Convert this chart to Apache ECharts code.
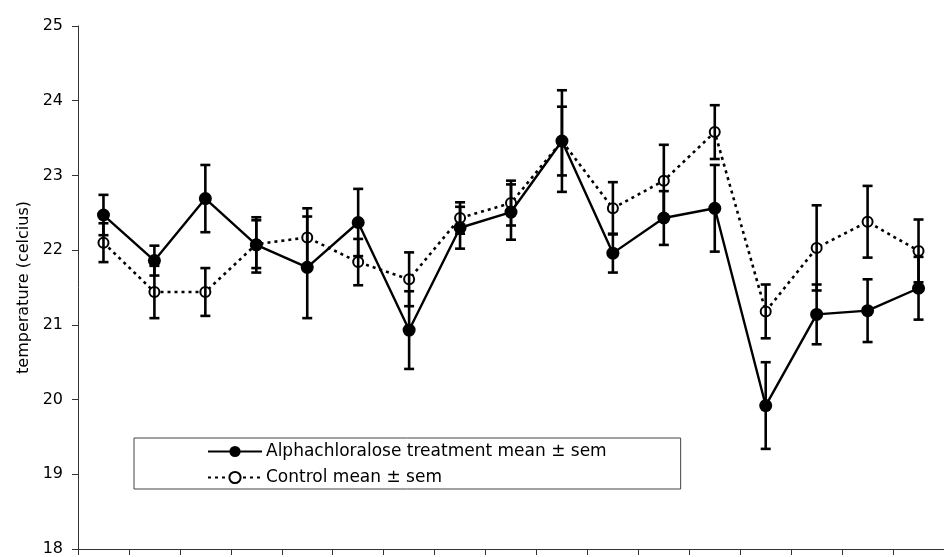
<!DOCTYPE html>
<html>
<head>
<meta charset="utf-8">
<script src="https://cdn.jsdelivr.net/npm/echarts@6/dist/echarts.min.js"></script>
<style>
  html, body { margin: 0; padding: 0; background: #fff; }
  #chart { width: 944px; height: 557px; }
</style>
</head>
<body>
<div id="chart"></div>
<script>
// 17 time points, no labels visible on the x axis
var categories = ['1', '2', '3', '4', '5', '6', '7', '8', '9', '10', '11', '12', '13', '14', '15', '16', '17'];
var treatMean = [22.47, 21.86, 22.69, 22.07, 21.77, 22.37, 20.93, 22.30, 22.51, 23.46, 21.96, 22.43, 22.56, 19.92, 21.14, 21.19, 21.49];
var treatSem  = [0.27, 0.20, 0.45, 0.37, 0.68, 0.45, 0.52, 0.28, 0.37, 0.68, 0.26, 0.36, 0.58, 0.58, 0.40, 0.42, 0.42];
var ctrlMean  = [22.10, 21.44, 21.44, 22.08, 22.17, 21.84, 21.61, 22.43, 22.63, 23.46, 22.56, 22.93, 23.58, 21.18, 22.03, 22.38, 21.99];
var ctrlSem   = [0.26, 0.35, 0.32, 0.32, 0.39, 0.31, 0.36, 0.21, 0.30, 0.46, 0.35, 0.48, 0.36, 0.36, 0.57, 0.48, 0.42];

var treatName = 'Alphachloralose treatment mean \u00b1 sem';
var ctrlName = 'Control mean \u00b1 sem';
var font = '"DejaVu Sans", Arial, sans-serif';

// [index, low, high] for the error bars
function errData(mean, sem) {
  return mean.map(function (m, i) {
    return [i, m - sem[i], m + sem[i]];
  });
}

function renderErr(params, api) {
  var x = api.value(0);
  var lo = api.coord([x, api.value(1)]);
  var hi = api.coord([x, api.value(2)]);
  var w = 5;
  var st = { stroke: '#000', lineWidth: 2.6 };
  return {
    type: 'group',
    children: [
      { type: 'line', shape: { x1: lo[0], y1: lo[1], x2: hi[0], y2: hi[1] }, style: st },
      { type: 'line', shape: { x1: lo[0] - w, y1: lo[1], x2: lo[0] + w, y2: lo[1] }, style: st },
      { type: 'line', shape: { x1: hi[0] - w, y1: hi[1], x2: hi[0] + w, y2: hi[1] }, style: st }
    ]
  };
}

var myChart = echarts.init(document.getElementById('chart'));
myChart.setOption({
  animation: false,
  backgroundColor: '#fff',
  textStyle: { fontFamily: font },
  grid: { left: 78, right: -10.5, top: 26, bottom: 4.5 },
  legend: {
    orient: 'vertical',
    left: 134,
    top: 438,
    align: 'left',
    data: [treatName, ctrlName],
    itemWidth: 54,
    itemHeight: 14,
    itemGap: 9,
    padding: [5, 74, 3, 73],
    backgroundColor: '#fff',
    borderColor: '#444',
    borderWidth: 1,
    borderRadius: 0,
    textStyle: { fontFamily: font, fontSize: 17, color: '#000', padding: [0, 0, 0, -1] }
  },
  xAxis: {
    type: 'category',
    data: categories,
    boundaryGap: true,
    axisLine: { lineStyle: { color: '#333', width: 1 } },
    axisTick: { show: true, length: 6, lineStyle: { color: '#333' } },
    axisLabel: { show: false },
    splitLine: { show: false }
  },
  yAxis: {
    type: 'value',
    min: 18,
    max: 25,
    interval: 1,
    name: 'temperature (celcius)',
    nameLocation: 'middle',
    nameRotate: 90,
    nameGap: 45,
    nameTextStyle: { fontFamily: font, fontSize: 16, color: '#000' },
    axisLine: { show: true, lineStyle: { color: '#333', width: 1 } },
    axisTick: { show: true, length: 6, lineStyle: { color: '#333' } },
    axisLabel: { fontFamily: font, fontSize: 16, color: '#000', margin: 15 },
    splitLine: { show: false }
  },
  series: [
    {
      name: treatName,
      type: 'line',
      data: treatMean,
      symbol: 'circle',
      symbolSize: 13,
      itemStyle: { color: '#000' },
      lineStyle: { color: '#000', width: 2.4 },
      z: 3
    },
    {
      name: ctrlName,
      type: 'line',
      data: ctrlMean,
      symbol: 'emptyCircle',
      symbolSize: 10,
      itemStyle: { color: '#000', borderWidth: 2.6 },
      lineStyle: { color: '#000', width: 2.6, type: [3, 4] },
      z: 2
    },
    {
      type: 'custom',
      renderItem: renderErr,
      data: errData(treatMean, treatSem),
      encode: { x: 0, y: [1, 2] },
      z: 4
    },
    {
      type: 'custom',
      renderItem: renderErr,
      data: errData(ctrlMean, ctrlSem),
      encode: { x: 0, y: [1, 2] },
      z: 4
    }
  ]
});
</script>
</body>
</html>
